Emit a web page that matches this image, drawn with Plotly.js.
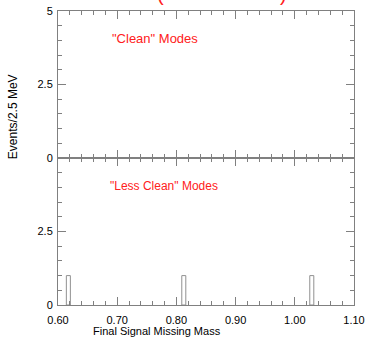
<!DOCTYPE html>
<html><head><meta charset="utf-8">
<script src="https://cdn.plot.ly/plotly-3.0.1.min.js"></script>
<style>html,body{margin:0;padding:0;background:#fff;}#chart{width:366px;height:338px;}</style>
</head><body><div id="chart"></div>
<script>
// Data
const binCenters = [0.6175, 0.8125, 1.0287];
const lessCleanCounts = [1, 1, 1];
const cleanCenters = [];
const cleanCounts = [];
const binWidth = 0.0068;
const xTickVals = [0.60, 0.70, 0.80, 0.90, 1.00, 1.10];
const xTickText = ["0.60", "0.70", "0.80", "0.90", "1.00", "1.10"];
const yTopTickVals = [0, 2.5, 5];
const yTopTickText = ["0", "2.5", "5"];
const yBotTickVals = [0, 2.5];
const yBotTickText = ["0", "2.5"];

const axisColor = '#808080';
const font = {family: 'Liberation Sans, Arial, sans-serif', size: 11, color: '#000'};

const traces = [
  {type: 'bar', x: binCenters, y: lessCleanCounts, width: binCenters.map(() => binWidth),
   xaxis: 'x', yaxis: 'y', marker: {color: 'rgba(255,255,255,0)', line: {color: '#909090', width: 1}}, hoverinfo: 'skip'},
  {type: 'bar', x: cleanCenters, y: cleanCounts,
   xaxis: 'x2', yaxis: 'y2', marker: {color: 'rgba(255,255,255,0)', line: {color: '#909090', width: 1}}, hoverinfo: 'skip'}
];

const xCommon = {
  range: [0.6, 1.1], tickmode: 'array', ticks: 'inside', ticklen: 8, tickcolor: axisColor, tickwidth: 1,
  showline: true, linecolor: axisColor, linewidth: 1, mirror: 'allticks', showgrid: false, zeroline: false,
  minor: {dtick: 0.02, tick0: 0.6, ticks: 'inside', ticklen: 4, tickcolor: axisColor, showgrid: false},
  tickfont: font, ticklabelstandoff: 5
};
const yCommon = {
  range: [0, 5], ticks: 'inside', ticklen: 8, tickcolor: axisColor, tickwidth: 1,
  showline: true, linecolor: axisColor, linewidth: 1, mirror: 'allticks', showgrid: false, zeroline: false,
  minor: {dtick: 0.5, tick0: 0, ticks: 'inside', ticklen: 4, tickcolor: axisColor, showgrid: false},
  tickfont: font, tickmode: 'array', ticklabelstandoff: 2
};

const layout = {
  width: 366, height: 338,
  margin: {l: 58, r: 12, t: 11, b: 33},
  paper_bgcolor: '#fff', plot_bgcolor: '#fff',
  showlegend: false, bargap: 0,
  xaxis: Object.assign({}, xCommon, {anchor: 'y', tickvals: xTickVals, ticktext: xTickText}),
  xaxis2: Object.assign({}, xCommon, {anchor: 'y2', matches: 'x', tickvals: xTickVals, ticktext: xTickText, showticklabels: false}),
  yaxis: Object.assign({}, yCommon, {domain: [0, 0.5], anchor: 'x', tickvals: yBotTickVals, ticktext: yBotTickText}),
  yaxis2: Object.assign({}, yCommon, {domain: [0.5, 1], anchor: 'x2', tickvals: yTopTickVals, ticktext: yTopTickText}),
  annotations: [
    {text: '"Clean" Modes', xref: 'paper', yref: 'paper', x: 0.175, y: 0.905, xanchor: 'left', yanchor: 'middle',
     showarrow: false, font: {family: 'Liberation Sans, Arial, sans-serif', size: 13, color: '#ff2020'}},
    {text: '"Less Clean" Modes', xref: 'paper', yref: 'paper', x: 0.168, y: 0.405, xanchor: 'left', yanchor: 'middle',
     showarrow: false, font: {family: 'Liberation Sans, Arial, sans-serif', size: 12, color: '#ff2020'}},
    {text: 'Events/2.5 MeV', xref: 'paper', yref: 'paper', x: -0.152, y: 0.639, textangle: -90,
     xanchor: 'center', yanchor: 'middle', showarrow: false, font: {family: 'Liberation Sans, Arial, sans-serif', size: 12, color: '#000'}},
    {text: 'Final Signal Missing Mass', xref: 'paper', yref: 'paper', x: 0.336, y: -0.0884,
     xanchor: 'center', yanchor: 'middle', showarrow: false, font: {family: 'Liberation Sans, Arial, sans-serif', size: 11, color: '#000'}},
    {text: '(', xref: 'paper', yref: 'paper', x: 0.345, y: 1.0136, xanchor: 'center', yanchor: 'bottom',
     showarrow: false, font: {family: 'Liberation Sans, Arial, sans-serif', size: 20, color: '#ff2020'}},
    {text: ')', xref: 'paper', yref: 'paper', x: 0.762, y: 1.0136, xanchor: 'center', yanchor: 'bottom',
     showarrow: false, font: {family: 'Liberation Sans, Arial, sans-serif', size: 20, color: '#ff2020'}}
  ]
};

Plotly.newPlot('chart', traces, layout, {staticPlot: true, displayModeBar: false});
</script>
</body></html>
